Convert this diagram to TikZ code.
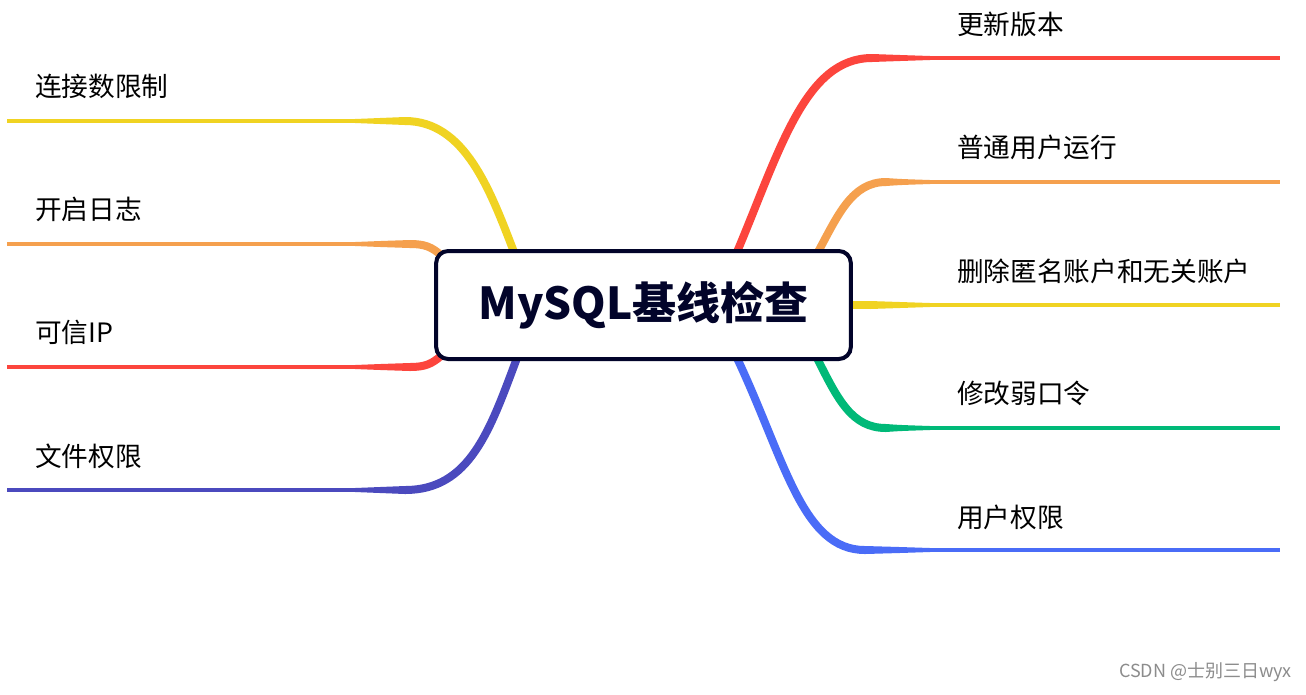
\documentclass[tikz,border=0pt]{standalone}
\usepackage{fontspec}
\setmainfont{Noto Sans CJK SC}
\usetikzlibrary{backgrounds}
\definecolor{cred}{HTML}{FC453D}
\definecolor{corange}{HTML}{F5A04E}
\definecolor{cyellow}{HTML}{F0D322}
\definecolor{cgreen}{HTML}{00B978}
\definecolor{cblue}{HTML}{4A6CF7}
\definecolor{cpurple}{HTML}{4B4ABE}
\definecolor{navy}{HTML}{02042A}
\definecolor{wmgray}{HTML}{8C8C8C}
\tikzset{
  thickbranch/.style={line width=6pt, line cap=butt},
  thinbranch/.style={line width=3pt, line cap=butt},
  leaf/.style={anchor=west, inner sep=0pt, font=\fontsize{20pt}{23pt}\selectfont, text=black},
  rootbox/.style={draw=navy, line width=3pt, rounded corners=9pt, fill=white,
    minimum width=311pt, minimum height=81pt, inner sep=0pt,
    font=\bfseries\fontsize{33pt}{38pt}\selectfont, text=navy},
}
\begin{document}
\begin{tikzpicture}[x=0.75pt,y=-0.75pt]
\useasboundingbox (0,0) rectangle (1306,694);

\node[rootbox] (root) at (643.5,305) {MySQL基线检查};

% right labels
\node[leaf] (l1) at (957,24) {更新版本};
\node[leaf] (l2) at (957,147) {普通用户运行};
\node[leaf] (l3) at (957,271) {删除匿名账户和无关账户};
\node[leaf] (l4) at (957,393) {修改弱口令};
\node[leaf] (l5) at (957,517) {用户权限};
% left labels
\node[leaf] (m1) at (35,86) {连接数限制};
\node[leaf] (m2) at (35,209) {开启日志};
\node[leaf] (m3) at (35,332) {可信IP};
\node[leaf] (m4) at (35,456) {文件权限};

\node[anchor=east, inner sep=0pt, text=wmgray, font=\fontsize{13.5pt}{15pt}\selectfont] (wm) at (1292,672) {CSDN @士别三日wyx};

\begin{scope}[on background layer]
\fill[white] (0,0) rectangle (1306,694);
% right branches: colour / start / c1 / c2 / horizontal point
\foreach \c/\sx/\sy/\ax/\ay/\bx/\by/\hx/\hy in {
  cred/737/252/780/150/805/58/872/58,
  corange/818/252/838/215/852/182/886/182,
  cyellow/848/305/855/305/862/305/870/305,
  cgreen/817/358/838/400/852/428/886/428,
  cblue/737/358/785/460/802/550/865/550}{
  \coordinate (s) at (\sx,\sy);
  \coordinate (h) at (\hx,\hy);
  \coordinate (t) at (930,\hy);
  \coordinate (e) at (1280,\hy);
  \draw[thickbranch,\c] (s) .. controls (\ax,\ay) and (\bx,\by) .. (h);
  \fill[\c] (\hx,\hy-4) .. controls (900,\hy-3) .. (930,\hy-2) -- (930,\hy+2) .. controls (900,\hy+3) .. (\hx,\hy+4) -- cycle;
  \draw[thinbranch,\c] (t) -- (e);
}
% left branches
\foreach \c/\sx/\sy/\ax/\ay/\bx/\by/\hx/\hy in {
  cyellow/514/252/490/190/465/121/405/121,
  corange/442/256/432/247/425/244/410/244,
  cred/442/355/432/364/425/367/410/367,
  cpurple/517/358/490/430/470/490/405/490}{
  \coordinate (s) at (\sx,\sy);
  \coordinate (h) at (\hx,\hy);
  \coordinate (t) at (355,\hy);
  \coordinate (e) at (7,\hy);
  \draw[thickbranch,\c] (s) .. controls (\ax,\ay) and (\bx,\by) .. (h);
  \fill[\c] (\hx,\hy-4) .. controls (380,\hy-3) .. (355,\hy-2) -- (355,\hy+2) .. controls (380,\hy+3) .. (\hx,\hy+4) -- cycle;
  \draw[thinbranch,\c] (t) -- (e);
}
\end{scope}
\end{tikzpicture}
\end{document}
